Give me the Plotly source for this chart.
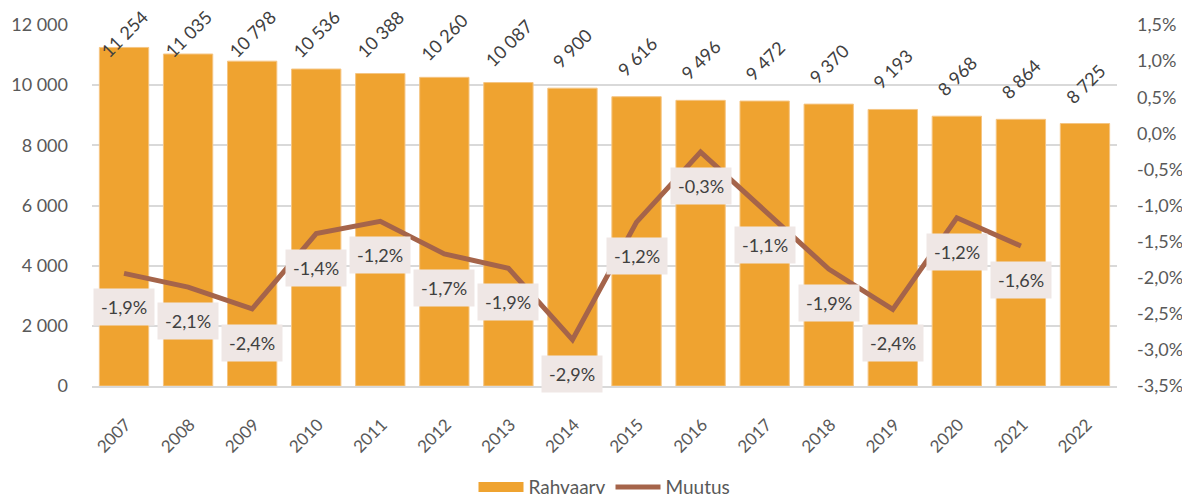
import plotly.graph_objects as go

years = [str(y) for y in range(2007, 2023)]
population = [11254, 11035, 10798, 10536, 10388, 10260, 10087, 9900,
              9616, 9496, 9472, 9370, 9193, 8968, 8864, 8725]
change_pct = [-1.94, -2.13, -2.43, -1.39, -1.22, -1.67, -1.87, -2.86,
              -1.23, -0.26, -1.07, -1.88, -2.44, -1.17, -1.56]
left_ticks = [0, 2000, 4000, 6000, 8000, 10000, 12000]
right_ticks = [-3.5, -3.0, -2.5, -2.0, -1.5, -1.0, -0.5, 0.0, 0.5, 1.0, 1.5]

FONT = "Lato"
BAR_COLOR = "#EFA330"
LINE_COLOR = "#A5644A"
TEXT = "#404040"
TICK = "#595959"

# page body has an 8px margin, so the figure is 8px smaller than the window
W, H = 1182, 488
ML, MR, MT, MB = 84, 73, 17, 110
PLOT_H = H - MT - MB
YMAX = 12000


def thousands(v):
    return f"{v:,}".replace(",", " ")


def pct(v):
    return f"{v:.1f}".replace(".", ",") + "%"


xi = list(range(len(years)))

fig = go.Figure()
fig.add_trace(go.Bar(
    x=xi, y=population, name="Rahvaarv", showlegend=False,
    marker=dict(color=BAR_COLOR, line=dict(color="#F5C583", width=1)),
))
# legend swatch for the bars (wide rectangle like the original)
fig.add_trace(go.Scatter(
    x=[None], y=[None], name="Rahvaarv", mode="lines",
    line=dict(color=BAR_COLOR, width=13),
))
fig.add_trace(go.Scatter(
    x=xi[:len(change_pct)], y=change_pct, name="Muutus", yaxis="y2",
    mode="lines", line=dict(color=LINE_COLOR, width=5),
))

# rotated value labels above the bars (kept inside the chart top)
for i, v in zip(xi, population):
    top_px = MT + (YMAX - v) / YMAX * PLOT_H
    shift = min(40, top_px - 26)
    fig.add_annotation(
        x=i, y=v, xref="x", yref="y", yshift=shift, textangle=-45,
        text=thousands(v), showarrow=False,
        font=dict(family=FONT, size=18, color=TEXT),
    )

for i, v in zip(xi, change_pct):
    fig.add_annotation(
        x=i, y=v, xref="x", yref="y2", yshift=-34,
        text=pct(v),
        showarrow=False, bgcolor="#EFE7E5", borderpad=7,
        font=dict(family=FONT, size=18, color=TEXT),
    )

fig.update_layout(
    width=W, height=H,
    margin=dict(l=ML, r=MR, t=MT, b=MB, autoexpand=False),
    paper_bgcolor="white", plot_bgcolor="white",
    bargap=0.23,
    font=dict(family=FONT, size=16, color=TICK),
    showlegend=True,
    legend=dict(orientation="h", x=0.5, xanchor="center", y=-0.28,
                yanchor="middle", itemwidth=45,
                font=dict(family=FONT, size=19, color=TICK)),
    xaxis=dict(range=[-0.5, len(years) - 0.5], tickmode="array",
               tickvals=xi, ticktext=years, tickangle=-45, showline=True,
               linecolor="#D9D9D9", linewidth=2, showgrid=False, zeroline=False,
               automargin=False, ticklabelstandoff=20, ticklabelshift=2,
               tickfont=dict(family=FONT, size=17, color=TICK)),
    yaxis=dict(range=[0, YMAX], tickmode="array", tickvals=left_ticks,
               ticktext=[thousands(v) for v in left_ticks],
               gridcolor="#D9D9D9", gridwidth=1.5, zeroline=False,
               automargin=False, ticklabelstandoff=23,
               tickfont=dict(family=FONT, size=18, color=TICK)),
    yaxis2=dict(range=[-3.5, 1.5], tickmode="array", tickvals=right_ticks,
                ticktext=[pct(v) for v in right_ticks],
                overlaying="y", side="right", showgrid=False, zeroline=False,
                automargin=False, ticklabelstandoff=19,
                tickfont=dict(family=FONT, size=18, color=TICK)),
)

fig.write_html("out.html")
